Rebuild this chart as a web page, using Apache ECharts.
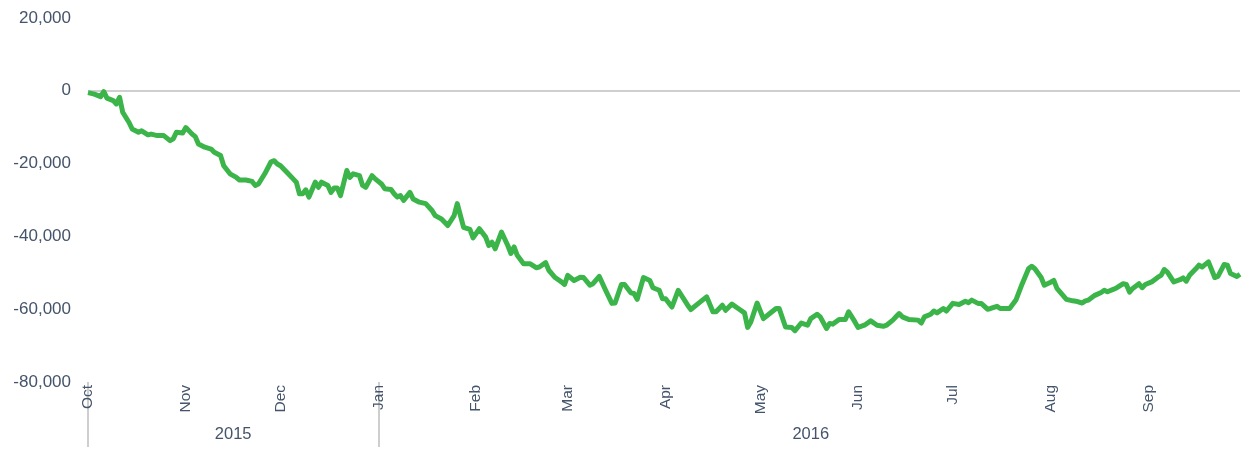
<!DOCTYPE html>
<html>
<head>
<meta charset="utf-8">
<title>Cumulative change</title>
<script src="https://cdn.jsdelivr.net/npm/echarts@6/dist/echarts.min.js"></script>
<style>
  html, body { margin: 0; padding: 0; background: #fff; }
  #chart { width: 1242px; height: 455px; }
</style>
</head>
<body>
<div id="chart"></div>
<script>
// days since 1 Oct 2015
const dayIndex = [
  0, 2, 4, 5, 6, 8, 9, 10, 11, 13, 14, 16, 17, 19, 20, 22, 24, 26, 27, 28,
  30, 31, 33, 34, 35, 37, 39, 40, 42, 43, 45, 47, 48, 50, 52, 53, 54, 56, 58, 59,
  60, 61, 63, 65, 66, 67, 68, 69, 70, 72, 73, 74, 76, 77, 78, 79, 80, 82, 83, 84,
  86, 87, 88, 90, 91, 93, 94, 96, 97, 98, 99, 100, 102, 103, 105, 107, 109, 110, 112, 113,
  114, 116, 117, 119, 121, 122, 124, 126, 127, 128, 129, 131, 133, 134, 135, 136, 138, 140, 142, 143,
  145, 146, 148, 150, 151, 152, 154, 156, 157, 159, 160, 162, 164, 166, 167, 169, 170, 172, 173, 174,
  176, 178, 179, 181, 182, 183, 185, 187, 190, 191, 194, 196, 198, 199, 201, 202, 204, 206, 208, 209,
  210, 212, 214, 216, 218, 219, 221, 223, 224, 226, 228, 229, 231, 232, 234, 235, 236, 238, 240, 241,
  243, 244, 246, 248, 250, 252, 253, 255, 256, 257, 258, 260, 263, 264, 265, 267, 268, 269, 271, 272,
  274, 276, 278, 279, 280, 282, 283, 285, 286, 288, 289, 292, 294, 296, 298, 299, 300, 302, 303, 305,
  306, 307, 310, 312, 313, 315, 316, 317, 319, 321, 322, 323, 325, 326, 328, 329, 330, 331, 333, 334,
  335, 337, 339, 340, 341, 342, 344, 346, 347, 348, 349, 351, 352, 353, 354, 355, 357, 358, 360, 361,
  362, 364, 365
];

const values = [
  -500, -900, -1600, -200, -2000, -2700, -3600, -1800, -5900, -8700, -10500, -11400, -11000, -12100, -11900, -12300, -12300, -13700, -13200, -11400,
  -11600, -10100, -11900, -12600, -14600, -15500, -16000, -16900, -17800, -20600, -22800, -23800, -24500, -24500, -24900, -26000, -25600, -22800, -19500, -19200,
  -20100, -20600, -22400, -24200, -25100, -28300, -28300, -27200, -29200, -25100, -26500, -25100, -26000, -27900, -26700, -26700, -28800, -21900, -23800, -22800,
  -23300, -26000, -26500, -23300, -24200, -25600, -26900, -27100, -28300, -29200, -28800, -30100, -27900, -29700, -30600, -31000, -32900, -34300, -35200, -36100,
  -37000, -34300, -31000, -37500, -38100, -40400, -37900, -40200, -42500, -41600, -43400, -38800, -42500, -44700, -42900, -45200, -47500, -47500, -48600, -48400,
  -47200, -49300, -51300, -52500, -53200, -50700, -52100, -51200, -51300, -53400, -53000, -51000, -54800, -58400, -58300, -53200, -53200, -55500, -55700, -57300,
  -51300, -52100, -54100, -54800, -57100, -57100, -59400, -54800, -58900, -60100, -58000, -56600, -60700, -60700, -58900, -60300, -58600, -59800, -61000, -65000,
  -63500, -58300, -62600, -61200, -59800, -59800, -64900, -65000, -65900, -63800, -64400, -62600, -61400, -62100, -65300, -63900, -64100, -62800, -62800, -60700,
  -63500, -65000, -64400, -63200, -64400, -64700, -64400, -63000, -62100, -61200, -62100, -62800, -63000, -63800, -62100, -61400, -60500, -61000, -59800, -60500,
  -58400, -58700, -57800, -58200, -57500, -58400, -58400, -60000, -59800, -59200, -59800, -59800, -57500, -53000, -48900, -48200, -48900, -51300, -53400, -52600,
  -52100, -54300, -57300, -57700, -57800, -58300, -57700, -57500, -56200, -55400, -54800, -55200, -54500, -54100, -53000, -53200, -55300, -54300, -53000, -54100,
  -53200, -52500, -51200, -50700, -49100, -49800, -52500, -51900, -51400, -52300, -50700, -48900, -47900, -48400, -47700, -47000, -51300, -51000, -47700, -47900,
  -50200, -51000, -50400
];

// month tick labels (day index of each month start)
const monthStarts = [0, 31, 61, 92, 123, 152, 183, 213, 244, 274, 305, 336];
const monthLabels = ['Oct', 'Nov', 'Dec', 'Jan', 'Feb', 'Mar', 'Apr', 'May', 'Jun', 'Jul', 'Aug', 'Sep'];

// year row
const yearBreaks = [0, 92];
const yearCenters = [46, 229];
const yearLabels = ['2015', '2016'];

const textColor = '#44546a';
const lineData = dayIndex.map((d, i) => [d, values[i]]);

const chart = echarts.init(document.getElementById('chart'));

chart.setOption({
  animation: false,
  grid: {
    left: 88,
    right: 2,
    top: 18,
    bottom: 73
  },
  xAxis: [
    {
      type: 'value',
      min: 0,
      max: 365,
      axisLine: { show: false },
      axisTick: { show: false },
      splitLine: { show: false },
      axisLabel: {
        customValues: monthStarts,
        rotate: 90,
        margin: 3,
        color: textColor,
        fontSize: 15.5,
        fontFamily: 'Liberation Sans, Arial, sans-serif',
        formatter: (v) => monthLabels[monthStarts.indexOf(v)] || ''
      }
    },
    {
      type: 'value',
      position: 'bottom',
      offset: 65,
      min: 0,
      max: 365,
      axisLine: { show: false },
      splitLine: { show: false },
      axisTick: {
        show: true,
        inside: true,
        length: 65,
        customValues: yearBreaks,
        lineStyle: { color: '#bfbfbf', width: 1.5 }
      },
      axisLabel: {
        inside: true,
        margin: 4,
        customValues: yearCenters,
        color: textColor,
        fontSize: 16.5,
        fontFamily: 'Liberation Sans, Arial, sans-serif',
        formatter: (v) => yearLabels[yearCenters.indexOf(v)] || ''
      }
    }
  ],
  yAxis: {
    type: 'value',
    min: -80000,
    max: 20000,
    interval: 20000,
    axisLine: { show: false },
    axisTick: { show: false },
    splitLine: { show: false },
    axisLabel: {
      margin: 17,
      color: textColor,
      fontSize: 17,
      fontFamily: 'Liberation Sans, Arial, sans-serif',
      formatter: (v) => v.toLocaleString('en-US')
    }
  },
  series: [
    {
      type: 'line',
      data: lineData,
      showSymbol: false,
      lineStyle: { color: '#3bb54a', width: 5, join: 'round' },
      z: 3,
      markLine: {
        silent: true,
        symbol: 'none',
        label: { show: false },
        lineStyle: { color: '#bfbfbf', width: 1.5, type: 'solid' },
        data: [{ yAxis: 0 }],
        z: 1
      }
    }
  ]
});
</script>
</body>
</html>
